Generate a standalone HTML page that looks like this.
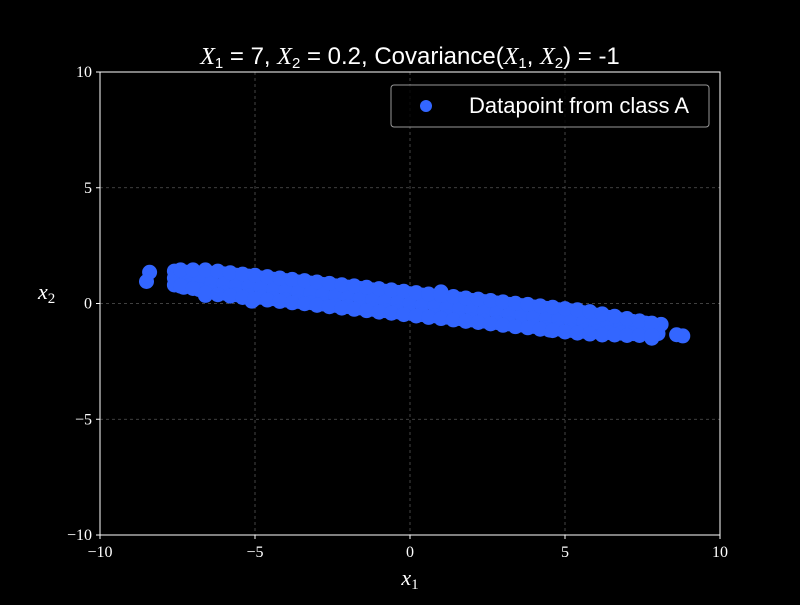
<!DOCTYPE html>
<html><head><meta charset="utf-8"><style>
body{margin:0;background:#000;width:800px;height:600px;overflow:hidden}
svg text{fill:#fff}
.serif{font-family:"Liberation Serif","DejaVu Serif",serif}
.sans{font-family:"Liberation Sans","DejaVu Sans",sans-serif}
</style></head><body>
<svg id="chart" width="800" height="600" xmlns="http://www.w3.org/2000/svg">
<rect width="800" height="600" fill="#000"/>
<g id="grid"></g>
<g id="points"></g>
<rect x="100" y="72" width="620" height="463" fill="none" stroke="#fff" stroke-width="1"/>
<g id="ticks"></g>
<text x="410" y="64" text-anchor="middle" font-size="24" class="sans"><tspan class="serif" font-style="italic">X</tspan><tspan font-size="15" dy="4">1</tspan><tspan dy="-4"> = 7, </tspan><tspan class="serif" font-style="italic">X</tspan><tspan font-size="15" dy="4">2</tspan><tspan dy="-4"> = 0.2, Covariance(</tspan><tspan class="serif" font-style="italic">X</tspan><tspan font-size="15" dy="4">1</tspan><tspan dy="-4">, </tspan><tspan class="serif" font-style="italic">X</tspan><tspan font-size="15" dy="4">2</tspan><tspan dy="-4">) = -1</tspan></text>
<text x="410" y="585" text-anchor="middle" font-size="22" class="serif" font-style="italic">x<tspan font-size="15" dy="4" font-style="normal">1</tspan></text>
<text x="38" y="299" font-size="22" class="serif" font-style="italic">x<tspan font-size="15" dy="4" font-style="normal">2</tspan></text>
<g>
<rect x="391" y="85" width="318" height="42" rx="3" fill="#000" fill-opacity="0.8" stroke="#999"/>
<circle cx="426" cy="106" r="6" fill="#3366ff"/>
<text x="469" y="113" font-size="22" class="sans">Datapoint from class A</text>
</g>
</svg>
<script>
const xTicks=[-10,-5,0,5,10];
const yTicks=[-10,-5,0,5,10];
const xValues=[-7.6,-7.6,-7.6,-7.2,-7.2,-7.2,-6.8,-6.8,-6.8,-6.4,-6.4,-6.4,-6.0,-6.0,-6.0,-5.6,-5.6,-5.6,-5.2,-5.2,-5.2,-4.8,-4.8,-4.8,-4.4,-4.4,-4.4,-4.0,-4.0,-4.0,-3.6,-3.6,-3.6,-3.2,-3.2,-3.2,-2.8,-2.8,-2.8,-2.4,-2.4,-2.4,-2.0,-2.0,-2.0,-1.6,-1.6,-1.6,-1.2,-1.2,-1.2,-0.8,-0.8,-0.8,-0.4,-0.4,-0.4,0,0,0,0.4,0.4,0.4,0.8,0.8,0.8,1.2,1.2,1.2,1.6,1.6,1.6,2.0,2.0,2.0,2.4,2.4,2.4,2.8,2.8,2.8,3.2,3.2,3.2,3.6,3.6,3.6,4.0,4.0,4.0,4.4,4.4,4.4,4.8,4.8,4.8,5.2,5.2,5.2,5.6,5.6,5.6,6.0,6.0,6.0,6.4,6.4,6.4,6.8,6.8,6.8,7.2,7.2,7.2,7.6,7.6,8.0,8.0,-8.4,-8.5,8.8,8.6,8.1,7.8,-7.3,-6.6,-5.1,-3.0,1.0,4.5];
const yValues=[1.40,1.10,0.80,1.35,1.03,0.75,1.30,0.97,0.60,1.30,0.92,0.50,1.28,0.86,0.45,1.22,0.80,0.38,1.18,0.74,0.32,1.10,0.69,0.27,1.05,0.63,0.21,0.99,0.57,0.15,0.93,0.51,0.09,0.88,0.46,0.04,0.82,0.40,-0.02,0.76,0.34,-0.08,0.71,0.29,-0.13,0.65,0.23,-0.19,0.59,0.17,-0.25,0.53,0.11,-0.31,0.48,0.06,-0.36,0.42,0.00,-0.42,0.36,-0.06,-0.48,0.31,-0.11,-0.53,0.25,-0.17,-0.59,0.19,-0.23,-0.65,0.13,-0.29,-0.71,0.08,-0.34,-0.76,0.02,-0.40,-0.82,-0.04,-0.46,-0.88,-0.09,-0.51,-0.93,-0.15,-0.57,-0.99,-0.21,-0.63,-1.05,-0.27,-0.69,-1.10,-0.32,-0.74,-1.16,-0.40,-0.80,-1.20,-0.50,-0.86,-1.22,-0.60,-0.92,-1.25,-0.70,-0.97,-1.28,-0.78,-1.03,-1.30,-0.85,-1.20,-0.95,-1.30,1.35,0.95,-1.40,-1.35,-0.90,-1.50,0.70,0.35,0.10,-0.05,0.50,-1.15];
const xValues2=[-7.4,-7.4,-7.0,-7.0,-6.6,-6.6,-6.2,-6.2,-5.8,-5.8,-5.4,-5.4,-5.0,-5.0,-4.6,-4.6,-4.2,-4.2,-3.8,-3.8,-3.4,-3.4,-3.0,-3.0,-2.6,-2.6,-2.2,-2.2,-1.8,-1.8,-1.4,-1.4,-1.0,-1.0,-0.6,-0.6,-0.2,-0.2,0.2,0.2,0.6,0.6,1.0,1.0,1.4,1.4,1.8,1.8,2.2,2.2,2.6,2.6,3.0,3.0,3.4,3.4,3.8,3.8,4.2,4.2,4.6,4.6,5.0,5.0,5.4,5.4,5.8,5.8,6.2,6.2,6.6,6.6,7.0,7.0,7.4,7.4,7.8,7.8];
const yValues2=[1.45,0.75,1.45,0.65,1.45,0.45,1.40,0.38,1.33,0.32,1.27,0.26,1.22,0.21,1.16,0.15,1.10,0.09,1.04,0.03,0.99,-0.01,0.93,-0.08,0.87,-0.14,0.81,-0.20,0.76,-0.25,0.70,-0.31,0.64,-0.37,0.59,-0.42,0.53,-0.48,0.47,-0.54,0.41,-0.60,0.36,-0.65,0.30,-0.71,0.24,-0.77,0.19,-0.82,0.13,-0.88,0.07,-0.94,0.01,-1.00,-0.04,-1.05,-0.10,-1.11,-0.16,-1.17,-0.22,-1.23,-0.27,-1.28,-0.35,-1.32,-0.45,-1.36,-0.55,-1.36,-0.65,-1.38,-0.75,-1.38,-0.85,-1.38];
const X=v=>100+(v+10)*31, Y=v=>303.5-v*23.15;
const NS="http://www.w3.org/2000/svg";
const grid=document.getElementById('grid'),ticks=document.getElementById('ticks'),pts=document.getElementById('points');
function mk(tag,attrs,parent){const e=document.createElementNS(NS,tag);for(const k in attrs)e.setAttribute(k,attrs[k]);parent.appendChild(e);return e;}
xTicks.forEach(t=>{
 const g=mk('line',{x1:X(t),x2:X(t),y1:72,y2:535,stroke:'#555','stroke-dasharray':'3,3','stroke-width':0.8},grid);
 
 
 const tk=mk('line',{x1:X(t),x2:X(t),y1:535,y2:539,stroke:'#fff'},ticks);
 
 
 const l=mk('text',{x:X(t),y:557,'text-anchor':'middle','font-size':16,class:'serif'},ticks);
 l.textContent=(t<0?'\u2212'+(-t):t);
 
 
});
yTicks.forEach(t=>{
 const g=mk('line',{x1:100,x2:720,y1:Y(t),y2:Y(t),stroke:'#555','stroke-dasharray':'3,3','stroke-width':0.8},grid);
 
 
 const tk=mk('line',{x1:96,x2:100,y1:Y(t),y2:Y(t),stroke:'#fff'},ticks);
 
 
 const l=mk('text',{x:92,y:Y(t)+5,'text-anchor':'end','font-size':16,class:'serif'},ticks);
 l.textContent=(t<0?'\u2212'+(-t):t);
 
 
});
function drawSet(xs,ys){
 xs.forEach((x,i)=>{
  const c=mk('circle',{cx:X(x),cy:Y(ys[i]),r:7.5,fill:'#3366ff'},pts);
  
  
 });
}
drawSet(xValues,yValues);
drawSet(xValues2,yValues2);
</script>
</body></html>
